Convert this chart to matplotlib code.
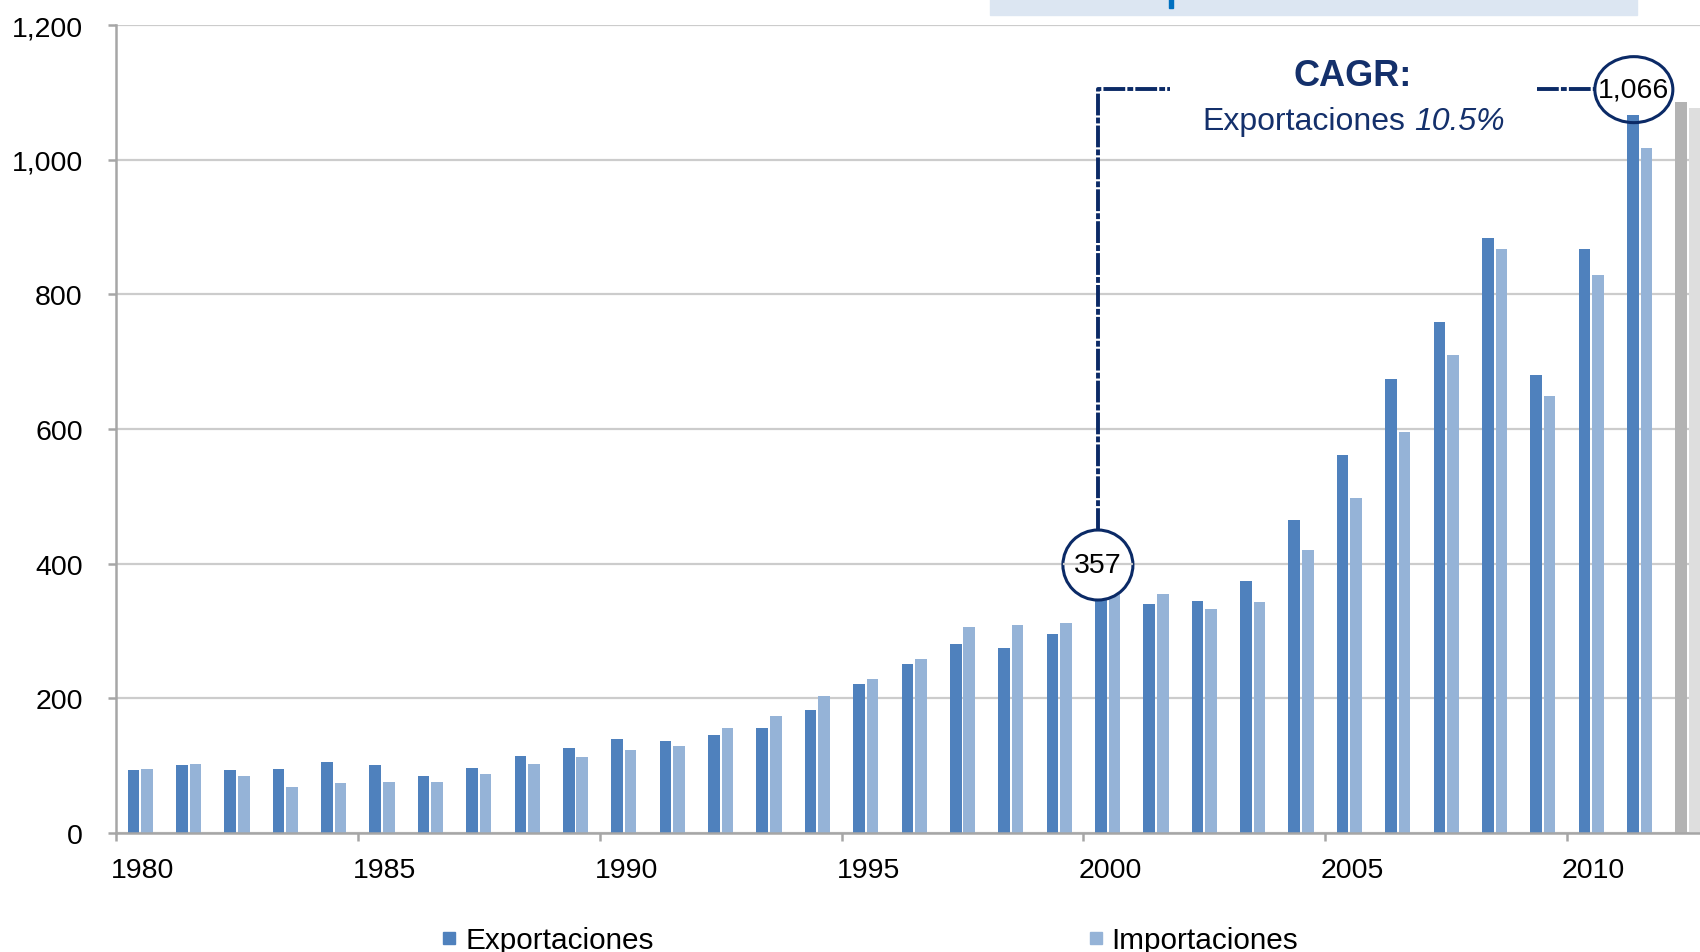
import numpy as np
import matplotlib
matplotlib.use("Agg")
import matplotlib.pyplot as plt
from matplotlib.patches import Ellipse, Rectangle
from matplotlib.lines import Line2D

plt.rcParams['font.family'] = ['Liberation Sans', 'DejaVu Sans']

# datos
years = list(range(1980, 2012))
exportaciones = [93, 101, 93, 95, 106, 101, 85, 97, 114, 126, 139, 137, 145, 156, 182,
                 222, 251, 280, 275, 295, 357, 340, 345, 375, 465, 562, 675, 759, 884,
                 680, 868, 1066]
importaciones = [95, 103, 85, 68, 74, 76, 76, 87, 103, 113, 124, 129, 156, 174, 203,
                 229, 258, 306, 309, 312, 364, 355, 333, 343, 420, 498, 596, 710, 867,
                 649, 828, 1018]
# barras grises al final (cortadas por el borde)
gray_years = [2012]
gray_exp = [1086]
gray_imp = [1077]

yticks = [0, 200, 400, 600, 800, 1000, 1200]
label_years = [1980, 1985, 1990, 1995, 2000, 2005, 2010]
cagr_text = "10.5%"

W, H = 1700, 953
navy = '#0B2A66'
navy_txt = '#14306B'
c_exp = '#4F81BD'
c_imp = '#95B3D7'
grid_c = '#CCCCCC'
axis_c = '#A6A6A6'

fig = plt.figure(figsize=(17, 9.53), dpi=100)
ax = fig.add_axes([116 / W, 1 - 834 / H, 1 - 116 / W, (834 - 26) / H])

cat_px = 48.37   # ancho de categoria en px
val_px = 808 / 1200

x = np.arange(len(years))
bw, off = 0.24, 0.14
ax.bar(x - off, exportaciones, bw, color=c_exp, zorder=2)
ax.bar(x + off, importaciones, bw, color=c_imp, zorder=2)
xg = np.arange(len(years), len(years) + len(gray_years))
ax.bar(xg - off, gray_exp, bw, color='#B3B3B3', zorder=2)
ax.bar(xg + off, gray_imp, bw, color='#DEDEDE', zorder=2)

ax.set_xlim(-0.5, (W - 116) / cat_px - 0.5)
ax.set_ylim(0, 1200)
ax.set_yticks(yticks)
ax.set_yticklabels([f"{v:,}" for v in yticks])
ax.yaxis.grid(True, color=grid_c, lw=1.6)
ax.set_axisbelow(True)

lab_idx = [years.index(y) for y in label_years]
ax.set_xticks([i - 0.5 for i in lab_idx])
ax.set_xticklabels([])
ax.set_xticks([i + 0.05 for i in lab_idx], minor=True)
ax.set_xticklabels([str(y) for y in label_years], minor=True)
ax.tick_params(axis='x', which='major', length=6, width=1.8, color=axis_c, direction='out')
ax.tick_params(axis='x', which='minor', length=0, pad=17, labelsize=20.5)
ax.tick_params(axis='y', length=6, width=1.8, color=axis_c, pad=18, labelsize=20.5)

for s in ['top', 'right']:
    ax.spines[s].set_visible(False)
for s in ['left', 'bottom']:
    ax.spines[s].set_color(axis_c)
    ax.spines[s].set_linewidth(1.8)

# anotaciones CAGR
dash = (5.6, 0.55, 1.5, 0.55)
i0 = years.index(2000)
i1 = years.index(2011)
c1x, c1y = i0 - 0.2, 398
r1x, r1y = 35 / cat_px, 35 / val_px
circ1 = Ellipse((c1x, c1y), 2 * r1x, 2 * r1y, facecolor='white', edgecolor=navy,
                lw=2.2, zorder=4)
ax.add_patch(circ1)
gl = ax.axhline(400, color=grid_c, lw=1.6, zorder=4.5)
gl.set_clip_path(circ1)
ax.text(c1x, c1y, f"{exportaciones[i0]:,}", ha='center', va='center', fontsize=20.5, zorder=5)

y_line = 1105
ax.plot([c1x, c1x, c1x + 1.49], [c1y + r1y, y_line, y_line], color=navy, lw=2.8,
        dashes=dash, zorder=3, solid_joinstyle='miter')

c2x, c2y = i1 - 0.12, 1104
r2x, r2y = 39 / cat_px, 33 / val_px
circ2 = Ellipse((c2x, c2y), 2 * r2x, 2 * r2y, facecolor='none', edgecolor=navy,
                lw=2.2, zorder=4)
ax.add_patch(circ2)
ax.text(c2x, c2y, f"{exportaciones[i1]:,}", ha='center', va='center', fontsize=20.5, zorder=5)
ax.plot([c2x - r2x - 1.2, c2x - r2x], [y_line, y_line], color=navy, lw=2.8,
        dashes=dash, zorder=3)

fig.text(1353 / W, 1 - 76 / H, "CAGR:", fontsize=26, weight='bold', color=navy_txt,
         ha='center', va='center')
fig.text(1405 / W, 1 - 122 / H, "Exportaciones", fontsize=23, color=navy_txt,
         ha='right', va='center')
fig.text(1414 / W, 1 - 122 / H, cagr_text, fontsize=23, color=navy_txt, style='italic',
         ha='left', va='center')

# caja superior
fig.patches.append(Rectangle((990 / W, 1 - 16 / H), 647 / W, 16 / H,
                             transform=fig.transFigure, color='#DCE6F2', zorder=0))
fig.patches.append(Rectangle((1169 / W, 1 - 9 / H), 4 / W, 9 / H,
                             transform=fig.transFigure, color='#0070C0', zorder=1))

handles = [Line2D([], [], marker='s', ls='none', color=c_exp, markersize=8),
           Line2D([], [], marker='s', ls='none', color=c_imp, markersize=8)]
fig.legend(handles, ['Exportaciones', 'Importaciones'], loc='center left',
           bbox_to_anchor=(444 / W, 1 - 941 / H), ncol=2, frameon=False, fontsize=21.4,
           handlelength=0.37, handletextpad=0.34, columnspacing=14.7,
           borderpad=0, borderaxespad=0)

fig.savefig("out.png", dpi=100)
